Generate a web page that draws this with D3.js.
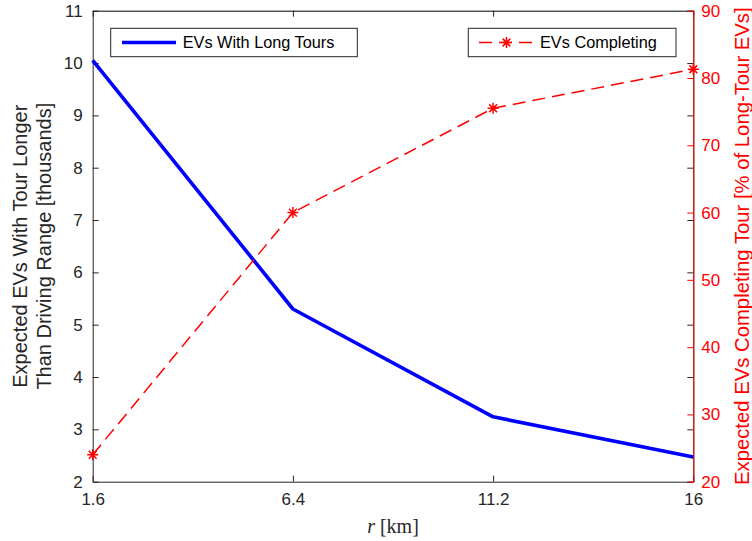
<!DOCTYPE html>
<html><head><meta charset="utf-8">
<script src="https://cdn.jsdelivr.net/npm/d3@7"></script>
<style>
body{margin:0;background:#fff}
svg{display:block}
text{font-family:"Liberation Sans",Arial,Helvetica,sans-serif}
</style>
</head><body>
<svg id="c" width="752" height="541"></svg>
<script>
// ---- data ----
const radiusKm = [1.6, 6.4, 11.2, 16];
const evsLongTours = [10.05, 5.30, 3.24, 2.47];      // thousands
const evsCompleting = [24.0, 60.0, 75.5, 81.3];      // % of long-tour EVs
const xTickValues = [1.6, 6.4, 11.2, 16];
const xTickLabels = ["1.6", "6.4", "11.2", "16"];
const leftTickValues = [2, 3, 4, 5, 6, 7, 8, 9, 10, 11];
const rightTickValues = [20, 30, 40, 50, 60, 70, 80, 90];
const seriesNames = ["EVs With Long Tours", "EVs Completing"];

// ---- layout ----
const W = 752, H = 541;
const m = {left: 92.7, right: 58.7, top: 10.7, bottom: 59.3};
const pw = W - m.left - m.right, ph = H - m.top - m.bottom;
const AX = "#262626", BLUE = "#0000ff", RED = "#ff0000";

const svg = d3.select("#c");
const g = svg.append("g").attr("transform", `translate(${m.left},${m.top})`);

const x = d3.scaleLinear().domain([1.6, 16]).range([0, pw]);
const yL = d3.scaleLinear().domain([2, 11]).range([ph, 0]);
const yR = d3.scaleLinear().domain([20, 90]).range([ph, 0]);

function styleAxis(sel, color, fs) {
  sel.select(".domain").attr("stroke", color).attr("stroke-width", 1);
  sel.selectAll(".tick line").attr("stroke", color).attr("stroke-width", 1);
  sel.selectAll(".tick text").attr("fill", color).style("font-size", fs + "px")
     .style("font-family", '"Liberation Sans",Arial,sans-serif');
}

// top mirror (black line)
const topAxis = g.append("g").call(d3.axisTop(x).tickValues(xTickValues).tickSize(-6).tickSizeOuter(0).tickFormat(""));
styleAxis(topAxis, AX, 16);
topAxis.select(".domain").attr("stroke", "#000");

// right mirror of left ticks (gray)
const rMirror = g.append("g").attr("transform", `translate(${pw},0)`)
  .call(d3.axisRight(yL).tickValues(leftTickValues).tickSize(-6).tickSizeOuter(0).tickFormat(""));
styleAxis(rMirror, AX, 16);

// bottom axis
const bottomAxis = g.append("g").attr("transform", `translate(0,${ph})`)
  .call(d3.axisBottom(x).tickValues(xTickValues).tickSize(-6).tickSizeOuter(0).tickPadding(11)
        .tickFormat((d, i) => xTickLabels[i]));
styleAxis(bottomAxis, AX, 17);

// left axis
const leftAxis = g.append("g")
  .call(d3.axisLeft(yL).tickValues(leftTickValues).tickSize(-6).tickSizeOuter(0).tickPadding(10).tickFormat(d3.format("d")));
styleAxis(leftAxis, AX, 17);

// right axis (red)
const rightAxis = g.append("g").attr("transform", `translate(${pw},0)`)
  .call(d3.axisRight(yR).tickValues(rightTickValues).tickSize(-6).tickSizeOuter(0).tickPadding(8).tickFormat(d3.format("d")));
styleAxis(rightAxis, RED, 17);

// series
const blueLine = d3.line().x((d, i) => x(radiusKm[i])).y(d => yL(d));
g.append("path").datum(evsLongTours).attr("d", blueLine)
  .attr("fill", "none").attr("stroke", BLUE).attr("stroke-width", 3.6).attr("stroke-linejoin", "round");

const redLine = d3.line().x((d, i) => x(radiusKm[i])).y(d => yR(d));
g.append("path").datum(evsCompleting).attr("d", redLine)
  .attr("fill", "none").attr("stroke", RED).attr("stroke-width", 1.5).attr("stroke-dasharray", "13,7");

function starPath(r) {
  const d = r * Math.SQRT1_2;
  return `M${-r},0L${r},0M0,${-r}L0,${r}M${-d},${-d}L${d},${d}M${-d},${d}L${d},${-d}`;
}
g.selectAll(".star").data(evsCompleting).join("path").attr("class", "star")
  .attr("transform", (d, i) => `translate(${x(radiusKm[i])},${yR(d)})`)
  .attr("d", starPath(5.5)).attr("stroke", RED).attr("stroke-width", 1.5).attr("fill", "none");

// legends
const lg1 = svg.append("g");
lg1.append("rect").attr("x", 110.7).attr("y", 28.3).attr("width", 246.6).attr("height", 28.4)
  .attr("fill", "#fff").attr("stroke", AX).attr("stroke-width", 1);
lg1.append("line").attr("x1", 122).attr("x2", 176).attr("y1", 42.5).attr("y2", 42.5)
  .attr("stroke", BLUE).attr("stroke-width", 3.6);
lg1.append("text").attr("x", 182.7).attr("y", 42.5).attr("dy", "0.36em")
  .style("font-size", "16.3px").attr("fill", "#000").text(seriesNames[0]);

const lg2 = svg.append("g");
lg2.append("rect").attr("x", 468.3).attr("y", 28.3).attr("width", 207.7).attr("height", 28.4)
  .attr("fill", "#fff").attr("stroke", AX).attr("stroke-width", 1);
lg2.append("line").attr("x1", 479).attr("x2", 534).attr("y1", 42.5).attr("y2", 42.5)
  .attr("stroke", RED).attr("stroke-width", 1.5).attr("stroke-dasharray", "13,7");
lg2.append("path").attr("transform", "translate(506.5,42.5)").attr("d", starPath(5.5))
  .attr("stroke", RED).attr("stroke-width", 1.5).attr("fill", "none");
lg2.append("text").attr("x", 540).attr("y", 42.5).attr("dy", "0.36em")
  .style("font-size", "16.3px").attr("fill", "#000").text(seriesNames[1]);

// axis labels
const cy = m.top + ph / 2;
const yl = svg.append("text").attr("transform", `translate(0,${cy}) rotate(-90)`)
  .attr("text-anchor", "middle").attr("fill", AX).style("font-size", "20px");
yl.append("tspan").attr("x", 0).attr("y", 27).text("Expected EVs With Tour Longer");
yl.append("tspan").attr("x", 0).attr("y", 51).text("Than Driving Range [thousands]");

svg.append("text").attr("transform", `translate(749,${cy}) rotate(-90)`)
  .attr("text-anchor", "middle").attr("fill", RED).style("font-size", "20.3px")
  .text("Expected EVs Completing Tour [% of Long-Tour EVs]");

const xl = svg.append("text").attr("x", m.left + pw / 2).attr("y", 533)
  .attr("text-anchor", "middle").attr("fill", AX)
  .style("font-family", '"Liberation Serif",serif').style("font-size", "20px");
xl.append("tspan").style("font-style", "italic").text("r");
xl.append("tspan").text(" [km]");
</script>
</body></html>
